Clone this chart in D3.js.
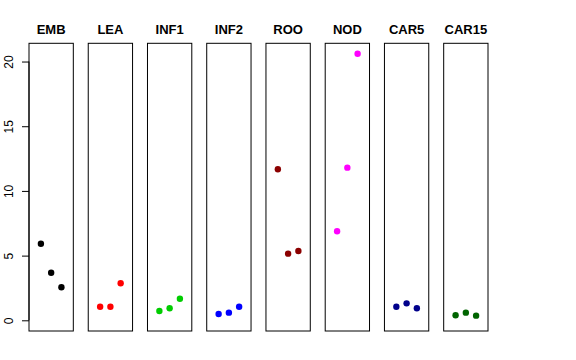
<!DOCTYPE html>
<html><head><meta charset="utf-8">
<script src="https://cdn.jsdelivr.net/npm/d3@7"></script>
<style>body{margin:0;background:#fff}svg{display:block}text{font-family:"Liberation Sans",Arial,sans-serif}</style>
</head><body><svg id="c" width="576" height="360"></svg>
<script>
const categories = ["EMB","LEA","INF1","INF2","ROO","NOD","CAR5","CAR15"];
const colors = ["#000000","#FF0000","#00CD00","#0000FF","#8B0000","#FF00FF","#00008B","#006400"];
const values = [
  [5.92, 3.68, 2.55],
  [1.05, 1.05, 2.86],
  [0.72, 0.93, 1.67],
  [0.49, 0.59, 1.05],
  [11.67, 5.15, 5.36],
  [6.88, 11.8, 20.6],
  [1.05, 1.31, 0.93],
  [0.39, 0.59, 0.36]
];
const yTicks = [0, 5, 10, 15, 20];

const svg = d3.select("#c");
const band = d3.scaleBand().domain(categories).range([29, 488]).paddingInner(0.252).paddingOuter(0);
const y = d3.scaleLinear().domain([-0.827, 21.41]).range([331, 43.3]);
const xi = d3.scaleLinear().domain([-0.16, 4.16]).range([0, band.bandwidth()]);

categories.forEach((c, i) => {
  const g = svg.append("g").attr("transform", `translate(${band(c)},0)`);
  g.append("rect").attr("x", 0).attr("y", y.range()[1]).attr("width", band.bandwidth())
    .attr("height", y.range()[0] - y.range()[1]).attr("fill", "none").attr("stroke", "#000").attr("stroke-width", 1);
  g.append("text").attr("x", band.bandwidth() / 2).attr("y", 34).attr("text-anchor", "middle")
    .attr("font-size", 13).attr("font-weight", "bold").text(c);
  g.selectAll("circle").data(values[i]).enter().append("circle")
    .attr("cx", (d, j) => xi(j + 1)).attr("cy", d => y(d)).attr("r", 3.2).attr("fill", colors[i]);
});

const ax = svg.append("g").attr("transform", `translate(${band(categories[0])},0)`)
  .call(d3.axisLeft(y).tickValues(yTicks).tickSize(7).tickFormat(d3.format("d")));
ax.selectAll(".tick text")
  .attr("font-size", 12).attr("font-family", '"Liberation Sans",Arial,sans-serif').attr("fill", "#000")
  .attr("x", null).attr("y", null).attr("dy", null)
  .attr("transform", "translate(-16,0) rotate(-90)").attr("text-anchor", "middle");
ax.select(".domain").attr("d", `M0,${y(0)}V${y(20)}`).attr("stroke", "#000");
ax.selectAll(".tick line").attr("stroke", "#000");
</script></body></html>
